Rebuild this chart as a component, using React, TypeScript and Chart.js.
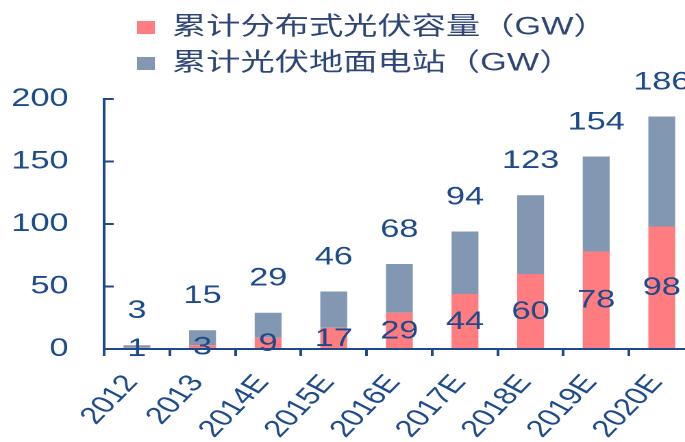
import React, { useEffect, useRef } from "react";
import { Chart, registerables } from "chart.js";

Chart.register(...registerables);

const categories = ["2012", "2013", "2014E", "2015E", "2016E", "2017E", "2018E", "2019E", "2020E"];
const distributed = [1, 3, 9, 17, 29, 44, 60, 78, 98];
const ground = [2, 12, 20, 29, 39, 50, 63, 76, 88];
const yTicks = [0, 50, 100, 150, 200];
const seriesNames = ["累计分布式光伏容量（GW）", "累计光伏地面电站（GW）"];

const RED = "#FF7C80";
const BLUEGRAY = "#8298B2";
const INK = "#1C4A8A";
const LEGEND_INK = "#2E4677";
const FONT = '"Liberation Sans", "Noto Sans CJK SC", Arial, sans-serif';
const SX = 1.37;
const CW = 512;
const CH = 442;

const legendShift = {
  id: "legendShift",
  afterLayout(chart: any) {
    const l = chart.legend;
    if (!l) return;
    l.left += 89;
    l.right += 89;
    l.top -= 13;
    l.bottom -= 13;
  },
};

const valueLabels = {
  id: "valueLabels",
  afterDatasetsDraw(chart: any) {
    const ctx = chart.ctx;
    const m0 = chart.getDatasetMeta(0);
    const m1 = chart.getDatasetMeta(1);
    ctx.save();
    ctx.font = `25px ${FONT}`;
    ctx.fillStyle = INK;
    ctx.textAlign = "center";
    ctx.textBaseline = "middle";
    m0.data.forEach((bar: any, i: number) => {
      const p = bar.getProps(["x", "y", "base"], true);
      ctx.fillText(String(distributed[i]), p.x, (p.y + p.base) / 2 + 1);
    });
    m1.data.forEach((bar: any, i: number) => {
      const p = bar.getProps(["x", "y"], true);
      ctx.fillText(String(distributed[i] + ground[i]), p.x, p.y - 34);
    });
    ctx.restore();
  },
};

export default function App() {
  const ref = useRef<HTMLCanvasElement | null>(null);
  useEffect(() => {
    if (!ref.current) return;
    const chart = new Chart(ref.current, {
      type: "bar",
      data: {
        labels: categories,
        datasets: [
          { label: seriesNames[0], data: distributed, backgroundColor: RED, barPercentage: 0.41, categoryPercentage: 1 },
          { label: seriesNames[1], data: ground, backgroundColor: BLUEGRAY, barPercentage: 0.41, categoryPercentage: 1 },
        ],
      },
      options: {
        animation: false,
        responsive: false,
        devicePixelRatio: 2,
        layout: { padding: { top: 17, right: 5, left: 0, bottom: 0 } },
        plugins: {
          tooltip: { enabled: false },
          legend: {
            position: "top",
            align: "start",
            labels: {
              boxWidth: 13,
              boxHeight: 13,
              padding: 11,
              color: LEGEND_INK,
              font: { family: FONT, size: 25 },
            },
          },
        },
        scales: {
          x: {
            stacked: true,
            afterFit: (s: any) => { s.height = 93; s.paddingLeft = 0; s.paddingRight = 0; },
            border: { display: true, color: INK, width: 2 },
            grid: { display: true, drawOnChartArea: false, drawTicks: true, tickLength: 7, color: INK, lineWidth: 2, offset: true },
            ticks: {
              color: INK,
              font: { family: FONT, size: 24 },
              minRotation: 54,
              maxRotation: 54,
              autoSkip: false,
              padding: 14,
              labelOffset: -4,
            },
          },
          y: {
            stacked: true,
            min: 0,
            max: 200,
            afterFit: (s: any) => { s.width = 76; },
            afterBuildTicks: (s: any) => { s.ticks = yTicks.map((v) => ({ value: v })); },
            border: { display: true, color: INK, width: 2 },
            grid: { display: true, drawOnChartArea: false, drawTicks: true, tickLength: -7, color: INK, lineWidth: 2 },
            ticks: {
              color: INK,
              font: { family: FONT, size: 25 },
              padding: 33,
            },
          },
        },
      },
      plugins: [legendShift, valueLabels],
    });
    return () => chart.destroy();
  }, []);
  return (
    <div style={{ position: "absolute", left: 0, top: 0, width: 685, height: 442, overflow: "hidden", background: "#fff" }}>
      <canvas
        ref={ref}
        width={CW}
        height={CH}
        style={{ width: CW + "px", height: CH + "px", transform: `scaleX(${SX})`, transformOrigin: "0 0", display: "block" }}
      />
    </div>
  );
}
